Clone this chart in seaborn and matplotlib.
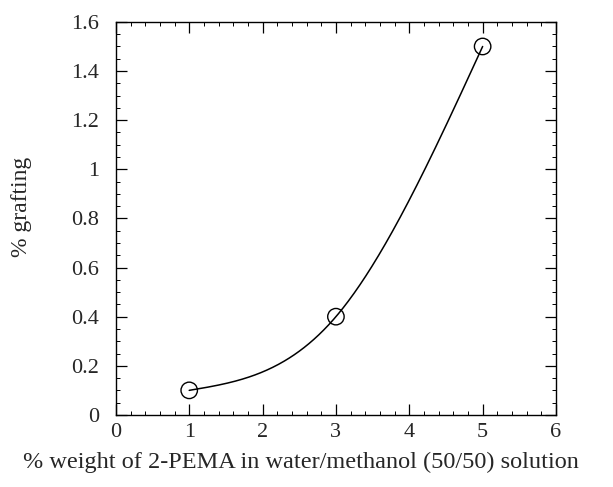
import numpy as np
import pandas as pd
import matplotlib
matplotlib.use("Agg")
import matplotlib.pyplot as plt
from matplotlib.ticker import MultipleLocator
import seaborn as sns

### data
pema_wt = [1, 3, 5]          # % weight of 2-PEMA
grafting = [0.1, 0.4, 1.5]   # % grafting

x_ticks = [0, 1, 2, 3, 4, 5, 6]
y_ticks = [0, 0.2, 0.4, 0.6, 0.8, 1, 1.2, 1.4, 1.6]
y_ticklabels = ["0", "0.2", "0.4", "0.6", "0.8", "1", "1.2", "1.4", "1.6"]


def natural_spline(x, y, xs):
    # natural cubic spline through the data points (smooth curve of the original)
    x = np.asarray(x, float); y = np.asarray(y, float)
    n = len(x); h = np.diff(x)
    A = np.zeros((n, n)); b = np.zeros(n)
    A[0, 0] = A[-1, -1] = 1
    for i in range(1, n - 1):
        A[i, i - 1] = h[i - 1]; A[i, i] = 2 * (h[i - 1] + h[i]); A[i, i + 1] = h[i]
        b[i] = 6 * ((y[i + 1] - y[i]) / h[i] - (y[i] - y[i - 1]) / h[i - 1])
    M = np.linalg.solve(A, b)
    k = np.clip(np.searchsorted(x, xs) - 1, 0, n - 2)
    s = x[k + 1] - xs; t = xs - x[k]
    return (M[k] * s**3 + M[k + 1] * t**3) / (6 * h[k]) \
        + (y[k] / h[k] - M[k] * h[k] / 6) * s + (y[k + 1] / h[k] - M[k + 1] * h[k] / 6) * t


xs = np.linspace(min(pema_wt), max(pema_wt), 300)
curve = pd.DataFrame({"x": xs, "y": natural_spline(pema_wt, grafting, xs)})
points = pd.DataFrame({"x": pema_wt, "y": grafting})

sns.set_style("ticks")
plt.rcParams["font.family"] = ["Liberation Serif", "DejaVu Serif"]

fig = plt.figure(figsize=(6.13, 4.87), dpi=100)
ax = fig.add_axes([0.189, 0.148, 0.718, 0.807])

sns.lineplot(data=curve, x="x", y="y", color="black", linewidth=1.1, ax=ax)
sns.scatterplot(data=points, x="x", y="y", marker="o", s=140,
                facecolors="none", edgecolor="black", linewidth=1.0, ax=ax, zorder=3)

ax.set_xlim(0, 6)
ax.set_ylim(0, 1.6)
ax.set_xticks(x_ticks)
ax.set_yticks(y_ticks)
ax.set_yticklabels(y_ticklabels)
ax.xaxis.set_minor_locator(MultipleLocator(0.2))
ax.yaxis.set_minor_locator(MultipleLocator(0.05))
ax.tick_params(which="both", direction="in", top=True, right=True, labelsize=16, color="black")
ax.tick_params(which="major", length=8, width=0.9)
ax.tick_params(which="minor", length=3, width=0.7)
ax.tick_params(axis="y", pad=12)
ax.tick_params(axis="x", pad=6)
for sp in ax.spines.values():
    sp.set_visible(True)
    sp.set_linewidth(1.0)
    sp.set_color("black")

ax.set_xlabel("% weight of 2-PEMA in water/methanol (50/50) solution", fontsize=17.5)
ax.set_ylabel("% grafting", fontsize=17)
ax.xaxis.set_label_coords(0.42, -0.093)
ax.yaxis.set_label_coords(-0.19, 0.53)

plt.savefig("out.png", dpi=100)
